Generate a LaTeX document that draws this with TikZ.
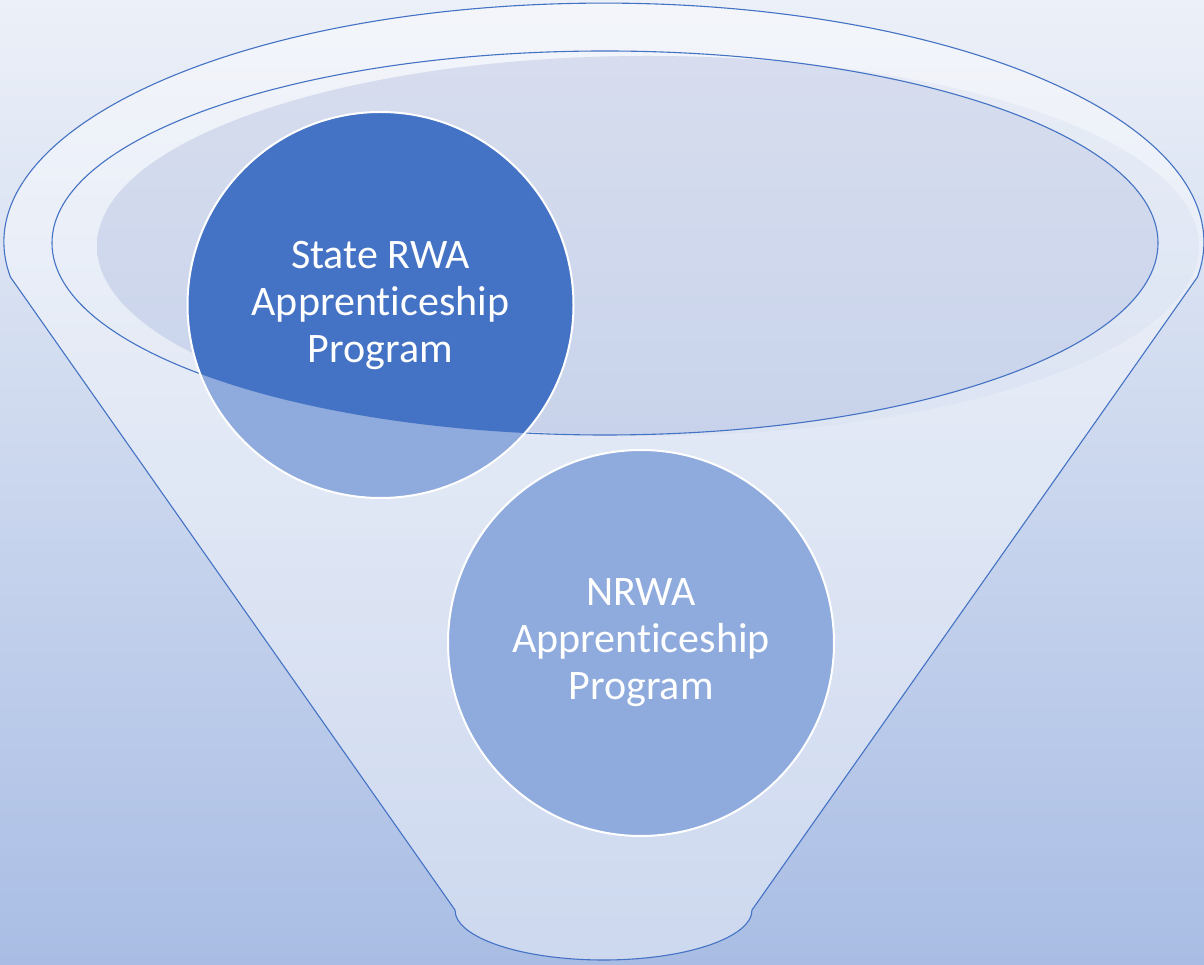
\documentclass[tikz,border=0pt]{standalone}
\usepackage{fontspec}
\setmainfont{Carlito}[Ligatures=NoCommon]
\begin{document}
\begin{tikzpicture}[x=1pt,y=1pt,
  outline/.style={draw=funnelblue,line width=1.1pt},
  bubble/.style={circle,minimum size=386pt,inner sep=0pt,draw=white,line width=2pt,
    text=white,align=center,font=\fontsize{42}{47}\selectfont}]
\definecolor{funnelblue}{HTML}{4472C4}
\definecolor{lightblue}{HTML}{8FAADC}
\definecolor{bgtop}{HTML}{ECF0F8}
\definecolor{bgbottom}{HTML}{A9BDE4}
\definecolor{cuptop}{HTML}{D7DDEE}
\definecolor{cupbottom}{HTML}{C8D3EB}

% page background
\shade[top color=bgtop,bottom color=bgbottom] (0,0) rectangle (1204,964);
\useasboundingbox (0,0) rectangle (1204,964);

% funnel body: rim, tapering sides and rounded spout
\fill[white,opacity=0.42]
  (10.4,687) arc[start angle=188.4,end angle=-8.4,x radius=600,y radius=239]
  -- (752,54) arc[start angle=0,end angle=-180,x radius=148.5,y radius=50] -- cycle;
\draw[outline,line join=round]
  (10.4,687) arc[start angle=188.4,end angle=-8.4,x radius=600,y radius=239]
  -- (752,54) arc[start angle=0,end angle=-180,x radius=148.5,y radius=50] -- cycle;

% shaded inside of the rim: a faint glow, then the deeper cup inside the inner rim
\begin{scope}
  \clip (604,722) ellipse[x radius=600,y radius=239];
  \fill[cupbottom,opacity=0.22] (648,718) ellipse[x radius=551,y radius=190];
\end{scope}
\begin{scope}
  \clip (605,721) ellipse[x radius=553,y radius=192];
  \shade[top color=cuptop,bottom color=cupbottom]
    (648,718) ellipse[x radius=551,y radius=190];
\end{scope}

% inner rim line
\draw[outline] (605,721) ellipse[x radius=553,y radius=192];

% upper bubble: lighter below the rim, darker inside it
\fill[lightblue] (380.5,659) circle[radius=193];
\begin{scope}
  \clip (605,721) ellipse[x radius=553,y radius=192];
  \fill[funnelblue] (380.5,659) circle[radius=193];
\end{scope}
\node[bubble] (state) at (380.5,659) {State RWA\\Apprenticeship\\Program};

% lower bubble
\node[bubble,fill=lightblue] (nrwa) at (641,321) {NRWA\\Apprenticeship\\Program};
\end{tikzpicture}
\end{document}
